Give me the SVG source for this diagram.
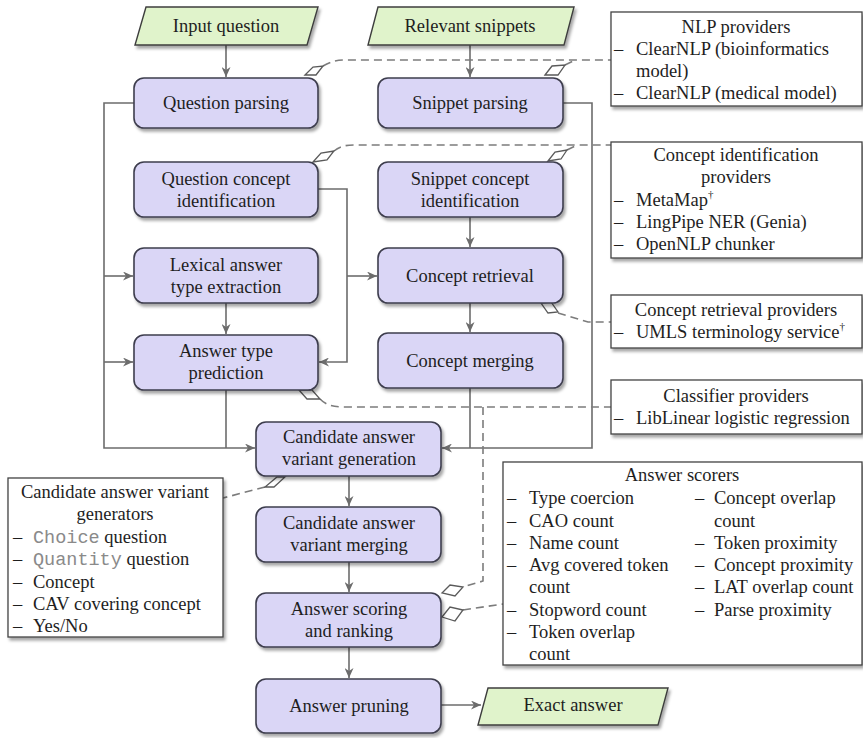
<svg xmlns="http://www.w3.org/2000/svg" width="863" height="738" viewBox="0 0 863 738">
<style>
text{font-family:"Liberation Serif","Times New Roman",serif;font-size:18.5px;fill:#1e1e1e}
.c{text-anchor:middle}
.mono{font-family:"Liberation Mono","Courier New",monospace;fill:#8a8a8a}
.node{fill:#dad6f6;stroke:#3e3e4e;stroke-width:1.6}
.io{fill:#e0f3cb;stroke:#3e3e3e;stroke-width:1.4}
.box{fill:#fff;stroke:#444;stroke-width:1.3}
.ln{fill:none;stroke:#6c6c6c;stroke-width:1.6}
.dl{fill:none;stroke:#7c7c7c;stroke-width:1.6;stroke-dasharray:8 5}
.dm{fill:#fff;stroke:#5a5a5a;stroke-width:1.3}
</style>
<defs>
<filter id="sh" x="-10%" y="-10%" width="125%" height="140%">
<feDropShadow dx="2" dy="3" stdDeviation="1.4" flood-color="#000" flood-opacity="0.35"/>
</filter>
<marker id="ar" markerUnits="userSpaceOnUse" markerWidth="11" markerHeight="9" refX="10" refY="4.5" orient="auto">
<path d="M0,0 L10,4.5 L0,9 L3,4.5 z" fill="#6c6c6c"/>
</marker>
</defs>

<g id="connectors">
<path class="ln" marker-end="url(#ar)" d="M226,45 L226,77"/>
<path class="ln" marker-end="url(#ar)" d="M470,45 L470,77"/>
<path class="ln" marker-end="url(#ar)" d="M134,103 L104,103 L104,448 L255,448"/>
<path class="ln" marker-end="url(#ar)" d="M104,276 L133,276"/>
<path class="ln" marker-end="url(#ar)" d="M104,362 L133,362"/>
<path class="ln" marker-end="url(#ar)" d="M318,189 L347,189 L347,362 L319,362"/>
<path class="ln" marker-end="url(#ar)" d="M347,276 L377,276"/>
<path class="ln" marker-end="url(#ar)" d="M226,303 L226,334"/>
<path class="ln" d="M226,390 L226,448"/>
<path class="ln" marker-end="url(#ar)" d="M563,103 L592,103 L592,448 L442,448"/>
<path class="ln" d="M470,388 L470,448"/>
<path class="ln" marker-end="url(#ar)" d="M470,217 L470,247"/>
<path class="ln" marker-end="url(#ar)" d="M470,303 L470,332"/>
<path class="ln" marker-end="url(#ar)" d="M349,476 L349,506"/>
<path class="ln" marker-end="url(#ar)" d="M349,562 L349,592"/>
<path class="ln" marker-end="url(#ar)" d="M349,647 L349,678"/>
<path class="ln" marker-end="url(#ar)" d="M441,705 L481,705"/>

<path class="dl" d="M323,66 C330,62 336,60 345,60 L611,60"/>
<path class="dl" d="M565,65 L575,60"/>
<path class="dl" d="M334,151 C340,146 346,145 355,145 L611,145"/>
<path class="dl" d="M567,150 L577,145"/>
<path class="dl" d="M558,313 L588,322 L611,322"/>
<path class="dl" d="M320,399 C326,405 332,407 345,407 L611,407"/>
<path class="dl" d="M483,407 L483,581 L463,587"/>
<path class="dl" d="M463,610 L503,604"/>
<path class="dl" d="M265,487 L223,498"/>

<polygon class="dm" points="305,75 313,67 323,66 316,75"/>
<polygon class="dm" points="545,75 552,66 565,65 558,75"/>
<polygon class="dm" points="313,162 321,153 334,151 327,160"/>
<polygon class="dm" points="548,161 555,152 567,150 561,159"/>
<polygon class="dm" points="541,303 551,302 558,312 548,313"/>
<polygon class="dm" points="299,390 307,399 320,399 312,390"/>
<polygon class="dm" points="277,477 285,477 274,487 265,487"/>
<polygon class="dm" points="442,593 450,585 463,587 455,596"/>
<polygon class="dm" points="442,617 450,607 463,610 455,621"/>
</g>

<g id="input-question">
<polygon class="io" filter="url(#sh)" points="146,7 318,7 307,45 135,45"/>
<text class="c" x="226" y="32">Input question</text>
</g>
<g id="relevant-snippets">
<polygon class="io" filter="url(#sh)" points="378,7 574,7 564,45 368,45"/>
<text class="c" x="470" y="32">Relevant snippets</text>
</g>

<g id="question-parsing">
<rect class="node" filter="url(#sh)" x="134" y="78" width="184" height="50" rx="10"/>
<text class="c" x="226" y="109">Question parsing</text>
</g>
<g id="snippet-parsing">
<rect class="node" filter="url(#sh)" x="378" y="78" width="185" height="50" rx="10"/>
<text class="c" x="470" y="109">Snippet parsing</text>
</g>
<g id="question-concept-identification">
<rect class="node" filter="url(#sh)" x="134" y="162" width="184" height="55" rx="10"/>
<text class="c" x="226" y="185">Question concept</text>
<text class="c" x="226" y="207">identification</text>
</g>
<g id="snippet-concept-identification">
<rect class="node" filter="url(#sh)" x="378" y="162" width="185" height="55" rx="10"/>
<text class="c" x="470" y="185">Snippet concept</text>
<text class="c" x="470" y="207">identification</text>
</g>
<g id="lexical-answer-type-extraction">
<rect class="node" filter="url(#sh)" x="134" y="248" width="184" height="55" rx="10"/>
<text class="c" x="226" y="271">Lexical answer</text>
<text class="c" x="226" y="293">type extraction</text>
</g>
<g id="concept-retrieval">
<rect class="node" filter="url(#sh)" x="378" y="248" width="185" height="55" rx="10"/>
<text class="c" x="470" y="282">Concept retrieval</text>
</g>
<g id="answer-type-prediction">
<rect class="node" filter="url(#sh)" x="134" y="335" width="184" height="55" rx="10"/>
<text class="c" x="226" y="357">Answer type</text>
<text class="c" x="226" y="379">prediction</text>
</g>
<g id="concept-merging">
<rect class="node" filter="url(#sh)" x="378" y="333" width="185" height="55" rx="10"/>
<text class="c" x="470" y="367">Concept merging</text>
</g>
<g id="candidate-answer-variant-generation">
<rect class="node" filter="url(#sh)" x="256" y="422" width="185" height="54" rx="10"/>
<text class="c" x="349" y="443">Candidate answer</text>
<text class="c" x="349" y="465">variant generation</text>
</g>
<g id="candidate-answer-variant-merging">
<rect class="node" filter="url(#sh)" x="256" y="507" width="185" height="55" rx="10"/>
<text class="c" x="349" y="529">Candidate answer</text>
<text class="c" x="349" y="551">variant merging</text>
</g>
<g id="answer-scoring-and-ranking">
<rect class="node" filter="url(#sh)" x="256" y="593" width="185" height="54" rx="10"/>
<text class="c" x="349" y="615">Answer scoring</text>
<text class="c" x="349" y="637">and ranking</text>
</g>
<g id="answer-pruning">
<rect class="node" filter="url(#sh)" x="256" y="679" width="185" height="54" rx="10"/>
<text class="c" x="349" y="712">Answer pruning</text>
</g>
<g id="exact-answer">
<polygon class="io" filter="url(#sh)" points="488,688 668,688 658,725 478,725"/>
<text class="c" x="573" y="711">Exact answer</text>
</g>

<g id="nlp-providers">
<rect class="box" filter="url(#sh)" x="611" y="12" width="251" height="94"/>
<text class="c" x="736" y="33">NLP providers</text>
<text x="614" y="55">–</text><text x="636" y="55">ClearNLP (bioinformatics</text>
<text x="636" y="77">model)</text>
<text x="614" y="99">–</text><text x="636" y="99">ClearNLP (medical model)</text>
</g>
<g id="concept-identification-providers">
<rect class="box" filter="url(#sh)" x="611" y="142" width="251" height="116"/>
<text class="c" x="736" y="161">Concept identification</text>
<text class="c" x="736" y="183">providers</text>
<text x="614" y="206">–</text><text x="636" y="206">MetaMap<tspan font-size="11" dy="-8">†</tspan></text>
<text x="614" y="228">–</text><text x="636" y="228">LingPipe NER (Genia)</text>
<text x="614" y="250">–</text><text x="636" y="250">OpenNLP chunker</text>
</g>
<g id="concept-retrieval-providers">
<rect class="box" filter="url(#sh)" x="611" y="295" width="251" height="53"/>
<text class="c" x="736" y="316">Concept retrieval providers</text>
<text x="614" y="338">–</text><text x="636" y="338">UMLS terminology service<tspan font-size="11" dy="-8">†</tspan></text>
</g>
<g id="classifier-providers">
<rect class="box" filter="url(#sh)" x="611" y="380" width="251" height="54"/>
<text class="c" x="736" y="402">Classifier providers</text>
<text x="614" y="424">–</text><text x="636" y="424">LibLinear logistic regression</text>
</g>
<g id="answer-scorers">
<rect class="box" filter="url(#sh)" x="503" y="462" width="359" height="203"/>
<text class="c" x="682" y="481">Answer scorers</text>
<text x="507" y="504">–</text><text x="529" y="504">Type coercion</text>
<text x="507" y="527">–</text><text x="529" y="527">CAO count</text>
<text x="507" y="549">–</text><text x="529" y="549">Name count</text>
<text x="507" y="571">–</text><text x="529" y="571">Avg covered token</text>
<text x="529" y="593">count</text>
<text x="507" y="616">–</text><text x="529" y="616">Stopword count</text>
<text x="507" y="638">–</text><text x="529" y="638">Token overlap</text>
<text x="529" y="660">count</text>
<text x="695" y="504">–</text><text x="714" y="504">Concept overlap</text>
<text x="714" y="527">count</text>
<text x="695" y="549">–</text><text x="714" y="549">Token proximity</text>
<text x="695" y="571">–</text><text x="714" y="571">Concept proximity</text>
<text x="695" y="593">–</text><text x="714" y="593">LAT overlap count</text>
<text x="695" y="616">–</text><text x="714" y="616">Parse proximity</text>
</g>
<g id="candidate-answer-variant-generators">
<rect class="box" filter="url(#sh)" x="8" y="478" width="215" height="159"/>
<text class="c" x="115" y="498">Candidate answer variant</text>
<text class="c" x="115" y="520">generators</text>
<text x="13" y="543">–</text><text x="33" y="543"><tspan class="mono">Choice</tspan> question</text>
<text x="13" y="565">–</text><text x="33" y="565"><tspan class="mono">Quantity</tspan> question</text>
<text x="13" y="588">–</text><text x="33" y="588">Concept</text>
<text x="13" y="610">–</text><text x="33" y="610">CAV covering concept</text>
<text x="13" y="632">–</text><text x="33" y="632">Yes/No</text>
</g>
</svg>
